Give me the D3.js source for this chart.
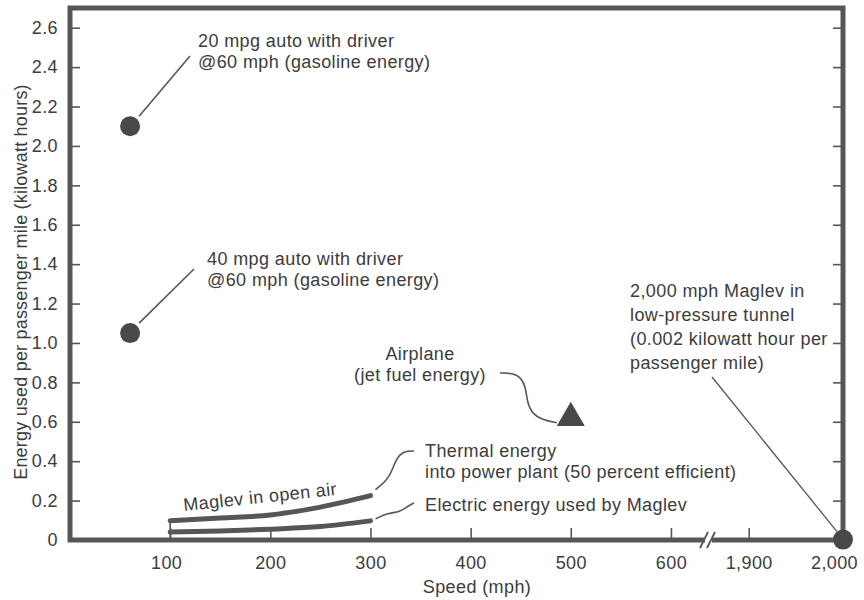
<!DOCTYPE html>
<head>
	<meta charset="utf-8">
	<script src="https://d3js.org/d3.v7.min.js"></script>
	<style>
		body { margin: 0; background: #fff; }
		text { font-family: "Liberation Sans", Arial, sans-serif; fill: #3c3c3c; font-size: 18px; letter-spacing: 0.4px; }
	</style>
</head>
<body>
	<div id="chart"></div>
	<script>

	// chart values
	var autoSpeeds = [60, 60];
	var autoEnergy = [2.1, 1.05];
	var planeSpeed = [500];
	var planeEnergy = [0.62];
	var tunnelSpeed = [2000];
	var tunnelEnergy = [0.002];
	var maglevSpeeds = [100, 150, 200, 250, 300];
	var thermalEnergy = [0.098, 0.112, 0.127, 0.167, 0.225];
	var electricEnergy = [0.04, 0.046, 0.055, 0.068, 0.097];
	var xTicks = [100, 200, 300, 400, 500, 600, 1900, 2000];
	var yTicks = [0, 0.2, 0.4, 0.6, 0.8, 1.0, 1.2, 1.4, 1.6, 1.8, 2.0, 2.2, 2.4, 2.6];

	var width = 864,
		height = 600;
	var pL = 70, pR = 843, pT = 8, pB = 540;
	var ink = "#565656";

	var svg = d3.select("#chart").append("svg")
		.attr("width", width)
		.attr("height", height);

	// broken x axis: 0-640 then 1860-2000
	var x = d3.scaleLinear()
		.domain([0, 640, 1860, 2000])
		.range([pL, 711, 711, pR]);
	var y = d3.scaleLinear()
		.domain([0, 2.7])
		.range([pB, pT]);

	// axes, ticks pointing inward
	var xAxis = svg.append("g")
		.attr("transform", "translate(0," + pB + ")")
		.call(d3.axisBottom(x).tickValues(xTicks).tickSize(-12).tickPadding(16)
			.tickFormat(d3.format(",")));
	var yAxis = svg.append("g")
		.attr("transform", "translate(" + pL + ",0)")
		.call(d3.axisLeft(y).tickValues(yTicks).tickSize(-10).tickPadding(12)
			.tickFormat(d => d === 0 ? "0" : d.toFixed(1)));
	var yAxisR = svg.append("g")
		.attr("transform", "translate(" + pR + ",0)")
		.call(d3.axisRight(y).tickValues(yTicks).tickSize(-10).tickFormat(""));

	[xAxis, yAxis, yAxisR].forEach(function(g) {
		g.attr("font-size", null).attr("font-family", null);
		g.select(".domain").remove();
		g.selectAll(".tick line").attr("stroke", ink).attr("stroke-width", 1.6);
		g.selectAll(".tick text").attr("fill", "#3c3c3c");
	});
	xAxis.selectAll(".tick").filter(d => d === 2000).select("line").remove();
	// end labels sit a little left of their ticks in the original
	xAxis.selectAll(".tick text").attr("dx", d => d === 2000 ? -9 : d === 100 ? -4 : 0);

	// frame
	svg.append("rect")
		.attr("x", pL).attr("y", pT)
		.attr("width", pR - pL).attr("height", pB - pT)
		.attr("fill", "none")
		.attr("stroke", ink)
		.attr("stroke-width", 5);

	// axis break marks
	svg.append("rect")
		.attr("x", 705).attr("y", pB - 4)
		.attr("width", 7).attr("height", 8)
		.attr("fill", "#fff");
	[704, 711].forEach(function(bx) {
		svg.append("line")
			.attr("x1", bx - 4).attr("y1", pB + 8)
			.attr("x2", bx + 4).attr("y2", pB - 8)
			.attr("stroke", ink).attr("stroke-width", 1.8);
	});

	// axis titles
	svg.append("text")
		.attr("x", 477).attr("y", 593)
		.attr("text-anchor", "middle")
		.text("Speed (mph)");
	svg.append("text")
		.attr("transform", "translate(27,282) rotate(-90)")
		.attr("text-anchor", "middle")
		.style("letter-spacing", "0.2px")
		.text("Energy used per passenger mile (kilowatt hours)");

	// maglev curves
	var line = d3.line()
		.x(d => x(d[0]))
		.y(d => y(d[1]))
		.curve(d3.curveMonotoneX);
	[thermalEnergy, electricEnergy].forEach(function(vals) {
		svg.append("path")
			.datum(maglevSpeeds.map((s, i) => [s, vals[i]]))
			.attr("d", line)
			.attr("fill", "none")
			.attr("stroke", ink)
			.attr("stroke-width", 5)
			.attr("stroke-linecap", "round");
	});
	svg.append("line")
		.attr("x1", x(maglevSpeeds[0])).attr("y1", pB)
		.attr("x2", x(maglevSpeeds[0])).attr("y2", y(thermalEnergy[0]))
		.attr("stroke", ink).attr("stroke-width", 1.6);

	// auto dots
	svg.selectAll("circle.auto")
		.data(autoSpeeds.map((s, i) => [s, autoEnergy[i]]))
		.join("circle")
			.attr("class", "auto")
			.attr("cx", d => x(d[0]))
			.attr("cy", d => y(d[1]))
			.attr("r", 10)
			.attr("fill", "#484848");

	// tunnel dot
	svg.append("circle")
		.attr("cx", x(tunnelSpeed[0]))
		.attr("cy", y(tunnelEnergy[0]))
		.attr("r", 10)
		.attr("fill", "#484848");

	// airplane triangle
	svg.append("path")
		.attr("transform", "translate(" + x(planeSpeed[0]) + "," + y(planeEnergy[0]) + ")")
		.attr("d", d3.symbol().type(d3.symbolTriangle).size(340))
		.attr("fill", "#484848");

	// labels
	function label(lines, lx, ly, dy, anchor) {
		var t = svg.append("text")
			.attr("text-anchor", anchor || "start");
		lines.forEach(function(s, i) {
			t.append("tspan").attr("x", lx).attr("y", ly + i * dy).text(s);
		});
	}
	label(["20 mpg auto with driver", "@60 mph (gasoline energy)"], 198, 47, 21);
	label(["40 mpg auto with driver", "@60 mph (gasoline energy)"], 207, 265, 21);
	label(["Airplane", "(jet fuel energy)"], 420, 360, 21, "middle");
	label(["Thermal energy", "into power plant (50 percent efficient)"], 425, 457, 21);
	label(["Electric energy used by Maglev"], 425, 511, 21);
	label(["2,000 mph Maglev in", "low-pressure tunnel", "(0.002 kilowatt hour per", "passenger mile)"], 630, 297, 24);

	svg.append("text")
		.attr("transform", "translate(184,511) rotate(-6)")
		.text("Maglev in open air");

	// leader lines
	var leader = d3.line().curve(d3.curveBasis);
	function lead(pts, w) {
		svg.append("path")
			.attr("d", leader(pts))
			.attr("fill", "none")
			.attr("stroke", ink)
			.attr("stroke-width", w || 1.6);
	}
	var ax = x(autoSpeeds[0]);
	lead([[ax + 9, y(autoEnergy[0]) - 10], [190, 56]]);
	lead([[ax + 9, y(autoEnergy[1]) - 10], [194, 269]]);
	var tx = x(maglevSpeeds[4]);
	lead([[tx + 5, y(thermalEnergy[4]) - 6], [390, 478], [396, 458], [404, 451], [414, 451]]);
	lead([[tx + 5, y(electricEnergy[4]) - 2], [388, 513], [400, 512], [408, 506], [414, 503]]);
	var px = x(planeSpeed[0]), py = y(planeEnergy[0]);
	lead([[500, 373], [518, 373], [526, 386], [527, 404], [535, 418], [px - 14, py + 5]]);
	lead([[712, 377], [x(tunnelSpeed[0]) - 6, y(tunnelEnergy[0]) - 8]], 1.3);

</script>
</body>
